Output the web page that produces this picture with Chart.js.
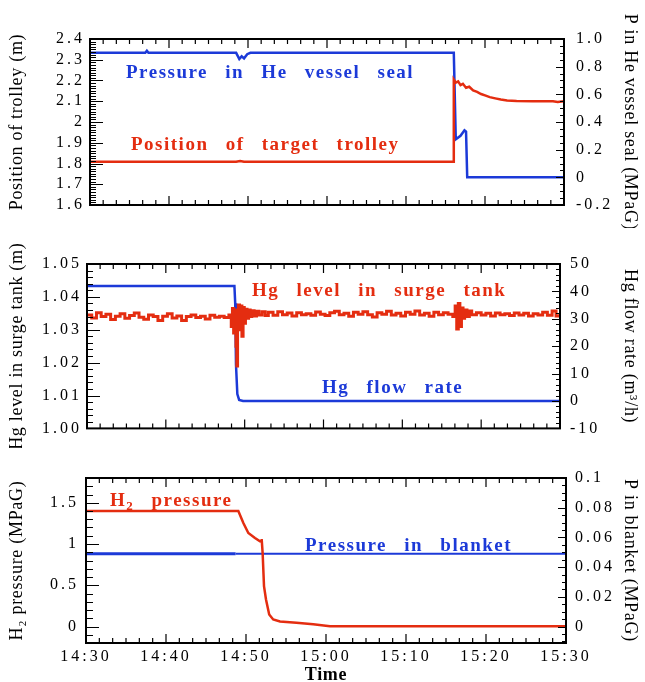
<!DOCTYPE html>
<html>
<head>
<meta charset="utf-8">
<script src="https://cdn.jsdelivr.net/npm/chart.js@4.4.1/dist/chart.umd.min.js"></script>
<style>
  body { margin: 0; background: #fff; width: 645px; height: 682px; position: relative; overflow: hidden; font-family: "Liberation Serif", "Times New Roman", serif; }
  canvas { position: absolute; left: 0; }
  .lab { position: absolute; font-weight: bold; font-size: 19px; letter-spacing: 1.5px; word-spacing: 11px; white-space: nowrap; line-height: 19px; }
  .red { color: #e42d10; }
  .blue { color: #1c3ad8; }
  sub { font-size: 13px; line-height: 0; vertical-align: -4px; }
</style>
</head>
<body>
<canvas id="c1" width="645" height="228" style="top:0px"></canvas>
<canvas id="c2" width="645" height="226" style="top:222px"></canvas>
<canvas id="c3" width="645" height="231" style="top:455px"></canvas>

<div class="lab blue" style="left:126px;top:62px">Pressure in He vessel seal</div>
<div class="lab red" style="left:131px;top:134px">Position of target trolley</div>
<div class="lab red" style="left:252px;top:280px">Hg level in surge tank</div>
<div class="lab blue" style="left:322px;top:377px">Hg flow rate</div>
<div class="lab red" style="left:110px;top:490px">H<sub>2</sub> pressure</div>
<div class="lab blue" style="left:305px;top:535px">Pressure in blanket</div>

<script>
// time in minutes after 14:30
var timeTicks = [0, 10, 20, 30, 40, 50, 60];
var timeLabels = ['14:30', '14:40', '14:50', '15:00', '15:10', '15:20', '15:30'];

// top panel: trolley position (m) and He vessel seal pressure (MPaG)
var trolleyTime = [0, 18.5, 19.0, 19.5, 45.95, 46.05, 46.3, 46.6, 46.9, 47.2, 47.6, 48.0, 48.5, 49.0, 49.5, 50.0, 50.6, 51.3, 52.0, 52.8, 54.0, 56.0, 58.6, 59.2, 60];
var trolleyPos = [1.808, 1.808, 1.812, 1.808, 1.808, 2.205, 2.19, 2.196, 2.178, 2.184, 2.165, 2.17, 2.152, 2.145, 2.135, 2.128, 2.12, 2.114, 2.108, 2.104, 2.101, 2.1, 2.1, 2.097, 2.1];
var heSealTime = [0, 7.0, 7.2, 7.4, 18.5, 18.9, 19.2, 19.5, 19.9, 20.3, 46.05, 46.3, 46.9, 47.4, 47.6, 47.75, 60];
var heSealP = [0.9, 0.9, 0.915, 0.9, 0.9, 0.855, 0.875, 0.86, 0.89, 0.9, 0.9, 0.275, 0.30, 0.34, 0.33, 0.0, 0.0];
var trolleyTicks = [1.6, 1.7, 1.8, 1.9, 2.0, 2.1, 2.2, 2.3, 2.4];
var heSealTicks = [-0.2, 0, 0.2, 0.4, 0.6, 0.8, 1.0];

// middle panel: Hg level in surge tank (m) and Hg flow rate (m3/h)
var hgLevelTime = [0, 0.6, 1.2, 1.8, 2.4, 3.0, 3.6, 4.2, 4.8, 5.4, 6.0, 6.6, 7.2, 7.8, 8.4, 9.0, 9.6, 10.2, 10.8, 11.4, 12.0, 12.6, 13.2, 13.8, 14.4, 15.0, 15.6, 16.2, 16.8, 17.4, 18.0,
  18.3, 18.45, 18.6, 18.75, 18.9, 19.0, 19.1, 19.2, 19.35, 19.5, 19.65, 19.8, 19.95, 20.1, 20.3, 20.5, 20.7, 20.9, 21.2, 21.5, 21.8, 22.2, 22.6,
  23.0, 23.6, 24.2, 24.8, 25.4, 26.0, 26.6, 27.2, 27.8, 28.4, 29.0, 29.6, 30.2, 30.8, 31.4, 32.0, 32.6, 33.2, 33.8, 34.4, 35.0, 35.6, 36.2, 36.8, 37.4, 38.0, 38.6, 39.2, 39.8, 40.4, 41.0, 41.6, 42.2, 42.8, 43.4, 44.0, 44.6, 45.2, 45.8,
  46.4, 46.7, 46.9, 47.1, 47.3, 47.5, 47.7, 47.9, 48.2, 48.5, 48.8,
  49.4, 50.0, 50.6, 51.2, 51.8, 52.4, 53.0, 53.6, 54.2, 54.8, 55.4, 56.0, 56.6, 57.2, 57.8, 58.4, 59.0, 59.5, 60];
var hgLevelVal = [1.0345, 1.0336, 1.0352, 1.0340, 1.0347, 1.0331, 1.0341, 1.0349, 1.0335, 1.0343, 1.0351, 1.0338, 1.0332, 1.0345, 1.0340, 1.0328, 1.0341, 1.0349, 1.0336, 1.0342, 1.0328, 1.0340, 1.0345, 1.0337, 1.0341, 1.0333, 1.0344, 1.0338, 1.0341, 1.0337, 1.0345,
  1.0310, 1.0365, 1.0290, 1.0360, 1.0250, 1.0190, 1.0340, 1.0375, 1.0300, 1.0372, 1.0280, 1.0368, 1.0320, 1.0362, 1.0335, 1.0360, 1.0340, 1.0358, 1.0342, 1.0356, 1.0345, 1.0355, 1.0343,
  1.0353, 1.0344, 1.0355, 1.0346, 1.0351, 1.0342, 1.0352, 1.0346, 1.0349, 1.0344, 1.0354, 1.0347, 1.0343, 1.0352, 1.0356, 1.0346, 1.0350, 1.0341, 1.0353, 1.0347, 1.0355, 1.0346, 1.0339, 1.0352, 1.0347, 1.0356, 1.0345, 1.0350, 1.0342, 1.0353, 1.0347, 1.0357, 1.0345, 1.0350, 1.0341, 1.0353, 1.0346, 1.0352, 1.0347,
  1.0340, 1.0372, 1.0302, 1.0380, 1.0310, 1.0366, 1.0335, 1.0360, 1.0340, 1.0357, 1.0346,
  1.0352, 1.0345, 1.0350, 1.0342, 1.0351, 1.0346, 1.0349, 1.0343, 1.0351, 1.0345, 1.0350, 1.0342, 1.0349, 1.0345, 1.0353, 1.0344, 1.0357, 1.0342, 1.0350];
var hgFlowTime = [0, 18.7, 18.8, 18.9, 19.07, 19.3, 19.8, 60];
var hgFlowRate = [42, 42, 35.7, 13.2, 2.5, 0.4, 0, 0];
var hgLevelTicks = [1.00, 1.01, 1.02, 1.03, 1.04, 1.05];
var hgFlowTicks = [-10, 0, 10, 20, 30, 40, 50];

// bottom panel: H2 pressure (MPaG) and pressure in blanket (MPaG)
var h2Time = [0, 19.04, 19.67, 20.29, 21.12, 21.75, 21.9, 21.96, 22.08, 22.25, 22.5, 22.9, 23.4, 24.25, 26.3, 28.4, 30.5, 60];
var h2P = [1.4, 1.4, 1.254, 1.133, 1.073, 1.032, 1.03, 1.06, 0.89, 0.49, 0.327, 0.145, 0.085, 0.06, 0.045, 0.028, 0.004, 0.004];
var blanketTime = [0, 18.7, 60];
var blanketP = [0.049, 0.049, 0.049];
var h2Ticks = [0, 0.5, 1, 1.5];
var blanketTicks = [0, 0.02, 0.04, 0.06, 0.08, 0.1];

var RED = '#e42d10';
var BLUE = '#1c3ad8';

Chart.defaults.font.family = '"Liberation Serif", "Times New Roman", serif';
Chart.defaults.color = '#000';

function pts(xs, ys) {
  return xs.map(function (x, i) { return { x: x, y: ys[i] }; });
}

function trim(v, d) {
  return String(parseFloat(v.toFixed(d)));
}

// frame round the plot area with inward ticks on all four sides
var frameTicks = {
  id: 'frameTicks',
  beforeDraw: function (chart) { chart.ctx.letterSpacing = '0.7px'; },
  afterDatasetsDraw: function (chart) { chart.ctx.letterSpacing = '3px'; },
  afterDraw: function (chart, args, opts) {
    var ctx = chart.ctx, a = chart.chartArea;
    ctx.save();
    ctx.letterSpacing = '0px';
    ctx.strokeStyle = '#000';
    ctx.lineWidth = 1.2;
    ctx.beginPath();
    var x = chart.scales.x;
    var n0 = Math.ceil(x.min / opts.xMinor - 1e-6), n1 = Math.floor(x.max / opts.xMinor + 1e-6);
    for (var n = n0; n <= n1; n++) {
      var v = n * opts.xMinor;
      var px = x.getPixelForValue(v);
      var major = Math.abs(v / 10 - Math.round(v / 10)) < 1e-6;
      var len = major ? 9 : 5;
      ctx.moveTo(px, a.bottom); ctx.lineTo(px, a.bottom - len);
      ctx.moveTo(px, a.top); ctx.lineTo(px, a.top + len);
    }
    ['yL', 'yR'].forEach(function (id) {
      var s = chart.scales[id], o = opts[id];
      var majors = s.ticks.map(function (t) { return t.value; });
      var m0 = Math.ceil(s.min / o.minor - 1e-6), m1 = Math.floor(s.max / o.minor + 1e-6);
      for (var k = m0; k <= m1; k++) {
        var val = k * o.minor;
        var py = Math.round(s.getPixelForValue(val)) + 0.5;
        var isMajor = majors.some(function (mv) { return Math.abs(mv - val) < o.minor / 10; });
        var l = isMajor ? o.major : o.minorLen;
        if (id === 'yL') { ctx.moveTo(a.left, py); ctx.lineTo(a.left + l, py); }
        else { ctx.moveTo(a.right, py); ctx.lineTo(a.right - l, py); }
      }
    });
    ctx.stroke();
    ctx.lineWidth = 2;
    ctx.strokeRect(a.left, a.top, a.right - a.left, a.bottom - a.top);
    ctx.restore();
  }
};

function yAxis(pos, min, max, ticks, fmt, title, width, pad) {
  return {
    type: 'linear', position: pos, min: min, max: max,
    grid: { display: false, drawTicks: false },
    border: { display: false },
    afterFit: function (s) { s.width = width; },
    afterBuildTicks: function (s) { s.ticks = ticks.map(function (v) { return { value: v }; }); },
    ticks: { padding: pad, autoSkip: false, font: { size: 16 }, color: '#000', z: 1, callback: fmt },
    title: { display: true, text: title, font: { size: 18 }, color: '#000', padding: { top: pos === 'left' ? 6 : 4, bottom: 0 } }
  };
}

function hiddenX() {
  return { type: 'linear', min: 0, max: 60, display: false };
}

function panel(id, datasets, scales, padTop, padBottom, frame) {
  return new Chart(document.getElementById(id), {
    type: 'line',
    data: { datasets: datasets },
    options: {
      responsive: false,
      animation: false,
      devicePixelRatio: 1,
      layout: { padding: { top: padTop, bottom: padBottom, left: 0, right: 0 } },
      elements: { point: { radius: 0 }, line: { tension: 0 } },
      plugins: { legend: { display: false }, tooltip: { enabled: false }, frameTicks: frame },
      scales: scales
    },
    plugins: [frameTicks]
  });
}

panel('c1', [
  { data: pts(trolleyTime, trolleyPos), yAxisID: 'yL', borderColor: RED, borderWidth: 2.5 },
  { data: pts(heSealTime, heSealP), yAxisID: 'yR', borderColor: BLUE, borderWidth: 2.5 }
], {
  x: hiddenX(),
  yL: yAxis('left', 1.6, 2.4, trolleyTicks, function (v) { return trim(v, 2); }, 'Position of trolley (m)', 90, 5),
  yR: yAxis('right', -0.2, 1.0, heSealTicks, function (v) { return v === 0 ? '0' : v.toFixed(1); }, 'P in He vessel seal (MPaG)', 81, 12)
}, 39, 23, { xMinor: 10 / 6, yL: { minor: 0.0125, major: 13, minorLen: 6 }, yR: { minor: 0.05, major: 8, minorLen: 4 } });

panel('c2', [
  { data: pts(hgLevelTime, hgLevelVal), yAxisID: 'yL', borderColor: RED, borderWidth: 3, stepped: true },
  { data: pts(hgFlowTime, hgFlowRate), yAxisID: 'yR', borderColor: BLUE, borderWidth: 2.5 }
], {
  x: hiddenX(),
  yL: yAxis('left', 1.0, 1.05, hgLevelTicks, function (v) { return v.toFixed(2); }, 'Hg level in surge tank (m)', 87, 5),
  yR: yAxis('right', -10, 50, hgFlowTicks, function (v) { return String(v); }, 'Hg flow rate (m\u00b3/h)', 85, 10)
}, 42, 16, { xMinor: 10 / 6, yL: { minor: 0.002, major: 13, minorLen: 6 }, yR: { minor: 2, major: 8, minorLen: 4 } });

panel('c3', [
  { data: pts(h2Time, h2P), yAxisID: 'yL', borderColor: RED, borderWidth: 2.5 },
  { data: pts(blanketTime, blanketP), yAxisID: 'yR', borderColor: BLUE, borderWidth: 2,
    segment: { borderWidth: function (c) { return c.p0.parsed.x < 18.7 ? 3.2 : 1.8; } } }
], {
  x: {
    type: 'linear', position: 'bottom', min: 0, max: 60,
    grid: { display: false, drawTicks: false },
    border: { display: false },
    afterFit: function (s) { s.height = 43; },
    afterBuildTicks: function (s) { s.ticks = timeTicks.map(function (v) { return { value: v }; }); },
    ticks: { padding: 4, maxRotation: 0, autoSkip: false, font: { size: 16 }, color: '#000', z: 1,
      callback: function (v) { return timeLabels[timeTicks.indexOf(v)]; } },
    title: { display: true, text: 'Time', font: { size: 18, weight: 'bold' }, color: '#000', padding: { top: 0, bottom: 0 } }
  },
  yL: yAxis('left', -0.2, 1.8, h2Ticks, function (v) { return trim(v, 1); }, 'H\u2082 pressure (MPaG)', 86, 7),
  yR: yAxis('right', -0.0111, 0.1, blanketTicks, function (v) { return trim(v, 3); }, 'P in blanket (MPaG)', 79, 9)
}, 23, 0, { xMinor: 10 / 6, yL: { minor: 0.1, major: 13, minorLen: 7 }, yR: { minor: 0.005, major: 8, minorLen: 4 } });
</script>
</body>
</html>
